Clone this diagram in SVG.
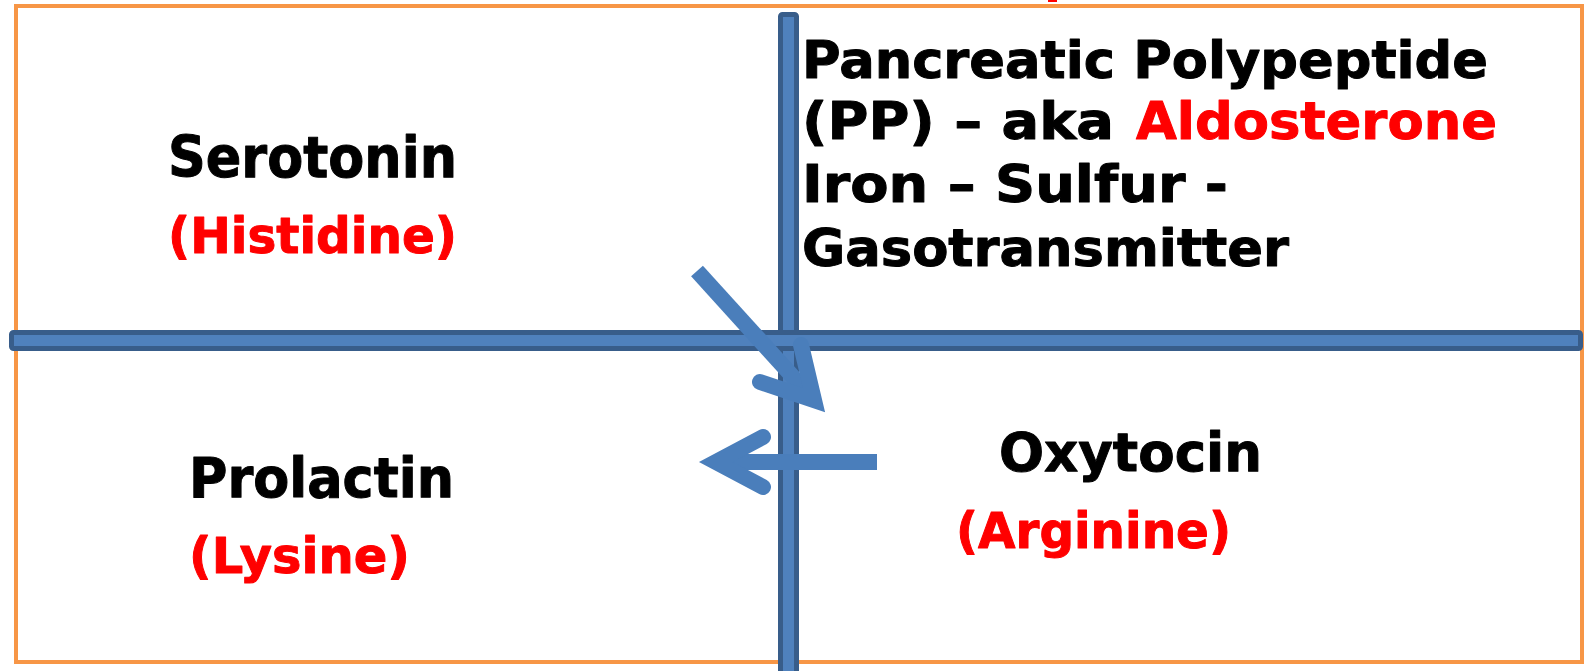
<svg xmlns="http://www.w3.org/2000/svg" width="1585" height="671" viewBox="0 0 1585 671">
  <style>
    .t { font-family: "DejaVu Sans", Verdana, "Liberation Sans", sans-serif; font-weight: bold; stroke-width: 1; stroke-linejoin: round; }
    .blk { fill: #000000; stroke: #000000; }
    .red { fill: #FF0000; stroke: #FF0000; }
    .bar { fill: #4F81BD; stroke: #385D8A; stroke-width: 5; }
    .arr { fill: none; stroke: #4A7EBB; stroke-width: 16; }
    .shaft { stroke-linecap: butt; }
    .head { stroke-linecap: round; stroke-linejoin: miter; stroke-miterlimit: 10; }
  </style>
  <rect x="0" y="0" width="1585" height="671" fill="#FFFFFF"/>
  <rect x="1048" y="0" width="9" height="2" fill="#FF0000"/>
  <rect id="frame" x="16" y="6" width="1566" height="656" fill="none" stroke="#F79646" stroke-width="4"/>
  <g id="bars">
    <rect class="bar" x="780.5" y="14.5" width="16" height="670" rx="2"/>
    <rect class="bar" x="11.5" y="332.5" width="1569" height="16" rx="2"/>
  </g>
  <g id="node-serotonin">
    <text class="t blk" x="168" y="177" font-size="57" textLength="289" lengthAdjust="spacingAndGlyphs">Serotonin</text>
    <text class="t red" x="168" y="253" font-size="50" textLength="289" lengthAdjust="spacingAndGlyphs">(Histidine)</text>
  </g>
  <g id="node-pp">
    <text class="t blk" x="802" y="78" font-size="52" textLength="686" lengthAdjust="spacingAndGlyphs">Pancreatic Polypeptide</text>
    <text class="t" y="139" font-size="52"><tspan class="blk" x="802" textLength="312" lengthAdjust="spacingAndGlyphs">(PP) – aka</tspan><tspan class="red" x="1136" textLength="361" lengthAdjust="spacingAndGlyphs">Aldosterone</tspan></text>
    <text class="t blk" x="802" y="202" font-size="52" textLength="426" lengthAdjust="spacingAndGlyphs">Iron – Sulfur -</text>
    <text class="t blk" x="802" y="266" font-size="52" textLength="487" lengthAdjust="spacingAndGlyphs">Gasotransmitter</text>
  </g>
  <g id="node-prolactin">
    <text class="t blk" x="189" y="497" font-size="55" textLength="265" lengthAdjust="spacingAndGlyphs">Prolactin</text>
    <text class="t red" x="189" y="573" font-size="50" textLength="221" lengthAdjust="spacingAndGlyphs">(Lysine)</text>
  </g>
  <g id="node-oxytocin">
    <text class="t blk" x="999" y="471" font-size="54" textLength="263" lengthAdjust="spacingAndGlyphs">Oxytocin</text>
    <text class="t red" x="956" y="548" font-size="50" textLength="275" lengthAdjust="spacingAndGlyphs">(Arginine)</text>
  </g>
  <g id="connectors">
    <path class="arr shaft" d="M697,271 L814,400"/>
    <path class="arr head" d="M801,345 L814,400 L760,382"/>
    <path class="arr shaft" d="M877,462 L716,462"/>
    <path class="arr head" d="M763,437 L716,462 L763,487"/>
  </g>
</svg>
